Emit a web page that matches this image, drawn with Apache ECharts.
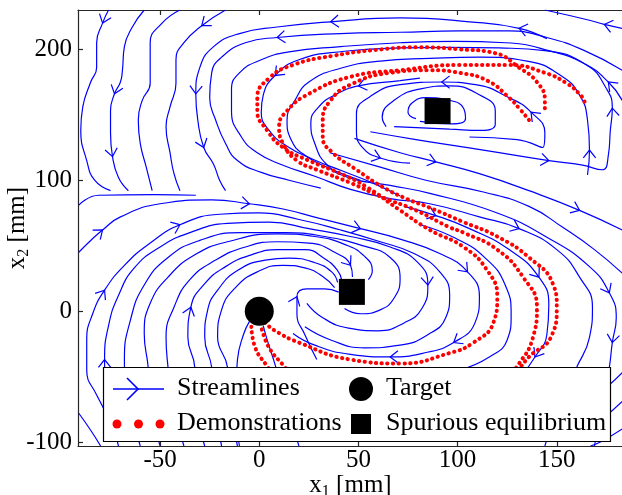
<!DOCTYPE html>
<html><head><meta charset="utf-8">
<script src="https://cdn.jsdelivr.net/npm/echarts@6/dist/echarts.min.js"></script>
<style>html,body{margin:0;padding:0;background:#fff}#c{width:622px;height:495px}</style>
</head><body><div id="c"></div>
<script>
// ---- tick labels ----
const xTicks = [-50, 0, 50, 100, 150];
const yTicks = [-100, 0, 100, 200];

// ---- equilibria ----
const targetPoint = [[0, 0]];
const spuriousPoints = [[46.7, 14.7], [89.9, 152.8]];

// ---- streamlines (data units, in flow order) ----
const V1 = [[-76,230],[-79,220],[-82,205],[-82,186],[-85,175],[-89,156],[-90,138],[-87,115],[-83,100],[-75,92]];
const V2 = [[-58,230],[-64,217],[-68,202],[-69,184],[-70,175],[-73,166],[-75,153],[-75,136],[-74,118],[-71,102],[-66,92]];
const V3 = [[-40,230],[-49,220],[-55,205],[-55,186],[-55,174],[-59,161],[-61,146],[-60,128],[-57,110],[-54,92]];
const V4 = [[-17,230],[-29,218],[-38,205],[-42,192],[-42,174],[-45,156],[-47,141],[-45,121],[-43,105],[-40,92]];
const H1 = [[-91,81],[-81,88.5],[-53,89],[-32,88.5]];
const T1 = [[183,216],[174,219],[167,222],[144,230]];
const UA1 = [[145,208],[131,216],[106,221],[71,224],[36,221],[9,217],[-10,212],[-23,202],[-30,186],[-32,166],[-31,146],[-28,125],[-23,112],[-20,100],[-17,92]];
const UA2 = [[183,184],[164,199],[145,209],[126,214],[101,214],[71,213],[41,212],[9,209],[-7,205],[-19,194],[-24,182],[-25,163],[-22,146],[-17,128],[-11,115],[1,106],[15,100],[31,94]];
const UA3 = [[183,161],[176,175],[164,189],[146,199],[124,205],[99,206],[71,205],[41,202],[15,198],[1,192],[-10,182],[-14,169],[-14,153],[-9,133],[-1,121],[11,112],[28,103],[46,93],[66,86],[86,82],[111,72],[131,63],[150,47],[161.5,26],[168,3],[166.5,-20],[160,-43],[151,-72],[144,-103]];
const UA4 = [[56,137],[79,131],[113,123],[146,115],[163,111.5],[173,108],[176,119],[177,138],[178,155],[175,170],[165,188],[144,199],[121,201],[96,201.5],[71,201],[43,198.5],[20,192],[8,180],[2,165],[1,152],[5,138],[14,126],[27,116],[42,107],[57,98],[71,88]];
const UA5 = [[165.5,104],[166.5,123],[165.5,146],[161.5,165],[152,180],[135,191],[111,194],[86,193],[61,191],[41,185.5],[25,175],[18,161],[14,146],[16,131],[23,119],[35.5,109],[51,100]];
const UA6 = [[106,133],[130,131],[143,125],[144,136],[137,152],[126,163],[109,173],[92,175],[71,173],[56,164],[49,151],[49,138],[52,125],[61,117],[76,113]];
const UA7 = [[81,178],[71,176],[50,172],[38,165],[30,156],[26,144],[28,128],[34,112],[45,102],[66,96],[86,90],[120,75],[145,56.5],[166.5,34],[176.5,14],[180,-5],[178,-24],[176.5,-43],[173,-72],[169,-103]];
const UA8 = [[68,141],[96,139],[112,138],[119,143],[119,153],[110,166],[96,172],[82,170],[68,161],[62,148],[64,141]];
const UA9 = [[81,145],[97,143],[104,147],[103,155],[96,161],[84,163],[77,159],[75,152],[79,147]];
const LA = [[-91,45],[-85,54],[-79,62],[-70,72],[-50,82],[-24,85],[-5,82],[12,78],[30,71],[51,63],[71,55],[91,44],[105,30],[111,11],[109,-8],[98,-24],[83,-32],[66,-35],[46,-33],[28,-26],[17,-17]];
const LB = [[-75,-83],[-82,-64],[-87,-45],[-87,-22],[-84,-2],[-78,16],[-68,35],[-55,52],[-40,66],[-20,74],[0,75],[20,70],[41,62],[61,53],[78,44],[91,30],[96,12],[94,-5],[85,-18],[71,-26],[53,-28],[36,-22],[23,-12]];
const LC = [[-71,-103],[-76,-68],[-78,-37],[-76,-11],[-71,12],[-63,33],[-50,49],[-35,60],[-16,67],[5,68],[25,63],[46,57],[66,49],[80,37],[85,20],[82,2],[73,-9],[60,-15],[45,-13],[32,-5],[24,6]];
const LD = [[-60,-103],[-66,-68],[-68,-37],[-65,-7],[-58,20],[-46,41],[-30,54],[-9,60],[13,60],[33,57],[52,50],[66,41],[71,25],[68,10],[61,1],[51,-2],[43,2]];
const LE = [[-50,-103],[-55,-68],[-56,-43],[-58,-17],[-55,6],[-46,26],[-32.5,43],[-16,53],[9,59],[28,57],[43,51],[53,42],[57,31],[55,24]];
const LF = [[-38,-103],[-44,-68],[-46,-43],[-47,-20],[-43,3],[-35,24],[-22,39],[-7,49],[9,53],[25,52],[38,45],[46,35],[47,26]];
const LI = [[-27.5,-103],[-32,-68],[-32.5,-43],[-36,-20],[-34.5,3],[-27.5,21],[-17,34],[-4,43],[9,47],[23,47],[33,40],[39.5,31],[41.5,24]];
const LJ = [[-19,-103],[-23,-68],[-24,-43],[-27.5,-20],[-26,1],[-21,16],[-11,31],[3,39],[15,40.5],[28,37],[36.5,30],[39.5,22]];
const LG = [[-11,-103],[-15,-68],[-16,-43],[-21,-20],[-19,1],[-12,18],[-1,30],[12,35],[23,33],[31.5,27],[38,18]];
const LH = [[29,-37],[23,-18],[19,-2],[19,11],[24,17],[33,17],[40,14.5]];
const TG1 = [[-10,-103],[-12,-68],[-11,-37],[-8,-18],[-5,-8]];
const TG2 = [[20,-103],[13,-68],[8,-41],[4,-22],[2,-11]];
const RB1 = [[48,132],[71,121],[89,114],[111,105],[136,92],[161.5,77],[183,62]];
const RB2 = [[35.5,121],[61,110],[84,100],[113,91],[136,80],[153,64],[169,47],[183,29]];
const RB5 = [[73,80],[89,73],[106,63],[126,47],[141,26],[146,5],[145,-18],[139,-35],[129,-56.5]];
const RB6 = [[81,66],[98.5,56],[114,40.5],[124,20],[127,-3],[125,-22],[116,-35],[101,-45]];
const BL1 = [[-80,-103],[-85,-91],[-91,-78]];
const RE1 = [[183,-47],[176,-57],[167,-68]];
const RE2 = [[183,-69],[174,-81],[164,-92]];
const RE3 = [[183,-90],[172,-100],[167,-103]];

const streamList = [V1,V2,V3,V4,H1,T1,UA1,UA2,UA3,UA4,UA5,UA6,UA7,UA8,UA9,
  LA,LB,LC,LD,LE,LF,LI,LJ,LG,LH,TG1,TG2,RB1,RB2,RB5,RB6,BL1,RE1,RE2,RE3];

// arrow heads: [streamline index, point index]
const arrowSpots = [[0,1],[1,5],[1,8],[3,1],[5,1],[6,1],[6,4],[6,9],[6,11],[7,7],
  [8,1],[8,21],[9,3],[9,8],[9,17],[10,1],[11,4],[11,7],[11,13],[12,2],[12,14],[12,16],
  [15,2],[15,6],[15,9],[15,12],[15,15],[15,17],[16,5],[16,8],[17,2],[17,14],
  [20,11],[21,2],[21,4],[24,3],[27,2],[27,5],[29,1],[29,4],[29,7]];

// ---- demonstrations ----
const demo1 = [[144,155],[144,161],[140,175],[131,186],[119,197],[101,200],[81,201.5],[62,200],[37,195],[17,188],[5,178],[-1,163],[-1,153],[4,138],[12,125],[25,115],[41,105],[54,95],[71,77],[86,62],[103,49],[115,31],[120,11],[118,-9],[108,-24],[96,-32],[71,-40],[46,-37],[20,-24],[8,-15],[3,-9]];
const demo2 = [[164,160],[162,165],[155,174],[144,182],[126,188],[101,188],[71,184],[46,179],[25,166],[14,153],[10,141],[12,128],[19,115],[29,108],[46,98],[62,87],[79,77],[96,64],[103,60],[120,47],[133,26],[140,3],[138,-20],[131,-40],[121,-57],[101,-70],[71,-76],[41,-68],[20,-57],[13,-43],[5,-28],[1,-12]];
const demo3 = [[136,146],[131,155],[126,163],[115,176],[101,182],[86,184],[66,182],[46,173],[36,161],[32,146],[32,133],[37,121],[49,108],[62,95],[74,86],[86,79],[103,68],[120,57],[136,41],[148,21],[150,3],[147,-20],[136,-35],[124,-57],[104,-77],[76,-87],[46,-83],[23,-68],[10,-53],[3,-40],[-2,-28],[-4,-12]];
const demoList = [demo1, demo2, demo3];

// ---- styles ----
const FONT = '"Liberation Serif", "Times New Roman", Times, serif';
const BLUE = '#0000ff', RED = '#ff0000', AX = '#262626';

const series = [];
streamList.forEach(function (pts) {
  series.push({type: 'line', data: pts, smooth: 0.5, symbol: 'none', showSymbol: false,
    lineStyle: {color: BLUE, width: 1.2}, silent: true, z: 2, animation: false});
});
demoList.forEach(function (pts) {
  series.push({type: 'line', data: pts, smooth: 0.5, symbol: 'none', showSymbol: false,
    lineStyle: {color: RED, width: 4, type: [0.3, 5.4], cap: 'round'}, silent: true, z: 3, animation: false});
});
const arrowData = arrowSpots.map(function (s) {
  const L = streamList[s[0]], i = s[1];
  const p = L[i], a = L[Math.max(i - 1, 0)], b = L[Math.min(i + 1, L.length - 1)];
  return [p[0], p[1], a[0], a[1], b[0], b[1]];
});
series.push({
  type: 'custom', data: arrowData, encode: {x: 0, y: 1}, z: 3, silent: true, animation: false,
  renderItem: function (params, api) {
    const p = api.coord([api.value(0), api.value(1)]);
    const a = api.coord([api.value(2), api.value(3)]);
    const b = api.coord([api.value(4), api.value(5)]);
    let dx = b[0] - a[0], dy = b[1] - a[1];
    const n = Math.hypot(dx, dy) || 1; dx /= n; dy /= n;
    const len = 10, ang = 38 * Math.PI / 180, c = Math.cos(ang), s = Math.sin(ang);
    const w1 = [p[0] - len * (dx * c - dy * s), p[1] - len * (dy * c + dx * s)];
    const w2 = [p[0] - len * (dx * c + dy * s), p[1] - len * (dy * c - dx * s)];
    return {type: 'polyline', shape: {points: [w1, p, w2]}, style: {stroke: BLUE, lineWidth: 1.2, fill: null}};
  }
});
series.push({type: 'scatter', data: targetPoint, symbol: 'circle', symbolSize: 29,
  itemStyle: {color: '#000', opacity: 1}, z: 5, silent: true, animation: false});
series.push({type: 'scatter', data: spuriousPoints, symbol: 'rect', symbolSize: 26,
  itemStyle: {color: '#000', opacity: 1}, z: 5, silent: true, animation: false});

const tickLabel = {fontFamily: FONT, fontSize: 25, color: '#000'};
const nameStyle = {fontFamily: FONT, fontSize: 25, color: '#000', lineHeight: 30,
  rich: {sub: {fontFamily: FONT, fontSize: 16, lineHeight: 16, verticalAlign: 'bottom', color: '#000'}}};

const chart = echarts.init(document.getElementById('c'), null, {renderer: 'canvas'});
chart.setOption({
  animation: false,
  backgroundColor: '#fff',
  grid: {left: 78, top: 10, width: 545, height: 436, containLabel: false, outerBoundsMode: 'none'},
  xAxis: [{
    type: 'value', min: -91.4, max: 183.4, position: 'bottom',
    axisLine: {show: true, onZero: false, lineStyle: {color: AX, width: 1.2}},
    axisTick: {show: true, inside: true, length: 5, customValues: xTicks, lineStyle: {color: AX, width: 1.2}},
    axisLabel: Object.assign({show: true, margin: 2, customValues: xTicks, formatter: function (v) { return String(v); }}, tickLabel),
    splitLine: {show: false},
    name: 'x{sub|1} [mm]', nameLocation: 'middle', nameGap: 24, nameMoveOverlap: false, nameTextStyle: nameStyle
  }, {
    type: 'value', min: -91.4, max: 183.4, position: 'top',
    axisLine: {show: true, onZero: false, lineStyle: {color: AX, width: 1.2}},
    axisTick: {show: true, inside: true, length: 5, customValues: xTicks, lineStyle: {color: AX, width: 1.2}},
    axisLabel: {show: false}, splitLine: {show: false}
  }],
  yAxis: [{
    type: 'value', min: -103, max: 230, position: 'left',
    axisLine: {show: true, onZero: false, lineStyle: {color: AX, width: 1.2}},
    axisTick: {show: true, inside: true, length: 5, customValues: yTicks, lineStyle: {color: AX, width: 1.2}},
    axisLabel: Object.assign({show: true, margin: 6, customValues: yTicks, formatter: function (v) { return String(v); }}, tickLabel),
    splitLine: {show: false},
    name: 'x{sub|2} [mm]', nameLocation: 'middle', nameGap: 46, nameMoveOverlap: false, nameTextStyle: nameStyle
  }],
  series: series,
  graphic: [
    {type: 'rect', z: 100, shape: {x: 103.5, y: 367.5, width: 507, height: 74}, style: {fill: '#fff', stroke: '#000', lineWidth: 1.2}},
    {type: 'line', z: 101, shape: {x1: 113, y1: 389, x2: 164, y2: 389}, style: {stroke: BLUE, lineWidth: 1.6}},
    {type: 'polyline', z: 101, shape: {points: [[127, 378], [138, 389], [127, 400]]}, style: {stroke: BLUE, lineWidth: 1.6, fill: null}},
    {type: 'circle', z: 101, shape: {cx: 117, cy: 424, r: 4.5}, style: {fill: RED}},
    {type: 'circle', z: 101, shape: {cx: 138.5, cy: 424, r: 4.5}, style: {fill: RED}},
    {type: 'circle', z: 101, shape: {cx: 160, cy: 424, r: 4.5}, style: {fill: RED}},
    {type: 'circle', z: 101, shape: {cx: 361, cy: 389, r: 12}, style: {fill: '#000'}},
    {type: 'rect', z: 101, shape: {x: 351, y: 414, width: 20, height: 20}, style: {fill: '#000'}},
    {type: 'text', z: 101, x: 177, y: 388, style: {text: 'Streamlines', fontFamily: FONT, fontSize: 26, fill: '#000', verticalAlign: 'middle', align: 'left'}},
    {type: 'text', z: 101, x: 177, y: 423, style: {text: 'Demonstrations', fontFamily: FONT, fontSize: 26, fill: '#000', verticalAlign: 'middle', align: 'left'}},
    {type: 'text', z: 101, x: 386, y: 388, style: {text: 'Target', fontFamily: FONT, fontSize: 26, fill: '#000', verticalAlign: 'middle', align: 'left'}},
    {type: 'text', z: 101, x: 386, y: 423, style: {text: 'Spurious equilibrium', fontFamily: FONT, fontSize: 26, fill: '#000', verticalAlign: 'middle', align: 'left'}}
  ]
});
</script></body></html>
